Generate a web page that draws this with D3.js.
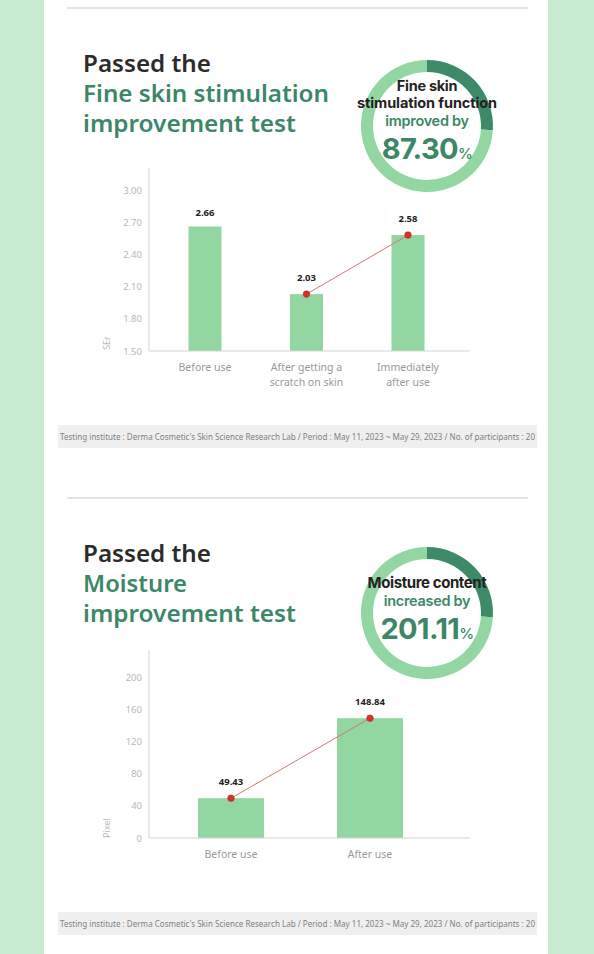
<!DOCTYPE html>
<html>
<head>
<meta charset="utf-8">
<script src="https://cdn.jsdelivr.net/npm/d3@7"></script>
<style>
  html, body { margin: 0; padding: 0; background: #c8ecd2; }
  svg { display: block; }
</style>
</head>
<body>
<svg id="chart" width="594" height="954"></svg>
<script>
// ---- data ----
var skinCategories = [["Before use"], ["After getting a", "scratch on skin"], ["Immediately", "after use"]];
var skinValues = [2.66, 2.03, 2.58];
var skinTicks = [1.50, 1.80, 2.10, 2.40, 2.70, 3.00];
var skinTrend = [1, 2];   // bars joined by the red line

var moistCategories = [["Before use"], ["After use"]];
var moistValues = [49.43, 148.84];
var moistTicks = [0, 40, 80, 120, 160, 200];
var moistTrend = [0, 1];

var ringSplit = [0.26, 0.74];   // dark / light part of the decorative ring
var footerText = "Testing institute : Derma Cosmetic's Skin Science Research Lab / Period : May 11, 2023 ~ May 29, 2023 / No. of participants : 20";

// ---- colours ----
var green = "#3b8767", barGreen = "#92d7a1", ringLight = "#92d7a1", ringDark = "#3d8a69";

var svg = d3.select("#chart");

// white panel
svg.append("rect").attr("x", 44).attr("y", 0).attr("width", 504).attr("height", 954).attr("fill", "#fff");

/** draws one whole block: headline, ring, bar chart and footer */
function draw_block(o) {
  var g = svg.append("g").attr("transform", "translate(0," + o.top + ")");

  // separator line
  g.append("line").attr("x1", 67).attr("x2", 528).attr("y1", 8).attr("y2", 8)
    .attr("stroke", "#e4e4e4").attr("stroke-width", 2);

  // headline
  o.headline.forEach(function (h, i) {
    g.append("text")
      .attr("x", 83).attr("y", 72 + i * 30)
      .attr("textLength", h.w).attr("lengthAdjust", "spacingAndGlyphs")
      .style("font-family", "'Noto Sans', sans-serif").style("font-weight", 600)
      .style("font-size", "23.5px").attr("fill", i == 0 ? "#2b2b2b" : green)
      .text(h.t);
  });

  // decorative ring
  var ring = g.append("g").attr("transform", "translate(427," + o.ringY + ")");
  var pie = d3.pie().sort(null)(ringSplit);
  var arc = d3.arc().innerRadius(54).outerRadius(66);
  ring.selectAll("path").data(pie).enter().append("path")
    .attr("d", arc).attr("fill", function (d, i) { return i == 0 ? ringDark : ringLight; });

  o.ringText.forEach(function (r) {
    ring.append("text").attr("x", 0).attr("y", r.y).attr("text-anchor", "middle")
      .style("font-family", "Inter, sans-serif").style("font-weight", r.weight || 700)
      .style("font-size", r.size + "px").style("letter-spacing", r.ls || "-0.3px")
      .attr("fill", r.color)
      .text(r.t)
      .append("tspan").style("font-size", "15px").style("font-weight", 500).text(r.suffix || "");
  });

  // scales
  var y = d3.scaleLinear().domain(o.domain).range(o.yRange);
  var x = d3.scalePoint().domain(d3.range(o.values.length)).range(o.xRange);

  // y axis
  var yAxis = d3.axisLeft(y).tickValues(o.ticks).tickSize(0).tickPadding(7)
    .tickFormat(o.fmt);
  var ya = g.append("g").attr("class", "y axis").attr("transform", "translate(149,0)").call(yAxis);
  ya.select(".domain").remove();
  ya.selectAll("text").style("font-family", "'Noto Sans', sans-serif")
    .style("font-size", "9.5px").attr("fill", "#b8b8b8");
  g.append("line").attr("x1", 149).attr("x2", 149).attr("y1", o.axisTop).attr("y2", o.yRange[0])
    .attr("stroke", "#dcdcdc").attr("stroke-width", 1.2);

  // y axis title
  g.append("text").attr("transform", "translate(110," + o.titleY + ") rotate(-90)")
    .attr("text-anchor", "middle")
    .style("font-family", "'Noto Sans', sans-serif").style("font-size", "9px")
    .attr("fill", "#b8b8b8").text(o.yTitle);

  // bars
  g.selectAll("rect.bar").data(o.values).enter().append("rect")
    .attr("class", "bar")
    .attr("x", function (d, i) { return x(i) - o.barW / 2; })
    .attr("y", function (d) { return y(d); })
    .attr("width", o.barW)
    .attr("height", function (d) { return y(o.domain[0]) - y(d); })
    .attr("fill", barGreen);

  // x axis line
  g.append("line").attr("x1", 149).attr("x2", 470).attr("y1", o.yRange[0]).attr("y2", o.yRange[0])
    .attr("stroke", "#d3d3d3").attr("stroke-width", 1.2);

  // value labels
  g.selectAll("text.val").data(o.values).enter().append("text")
    .attr("class", "val")
    .attr("x", function (d, i) { return x(i); })
    .attr("y", function (d, i) { return y(d) - (o.trend.indexOf(i) >= 0 ? 13 : 10); })
    .attr("text-anchor", "middle")
    .style("font-family", "'Noto Sans', sans-serif").style("font-weight", 700)
    .style("font-size", "9.5px").attr("fill", "#222")
    .text(function (d) { return d.toFixed(2); });

  // trend line and dots
  var pts = o.trend.map(function (i) { return [x(i), y(o.values[i])]; });
  g.append("path").attr("d", d3.line()(pts)).attr("fill", "none")
    .attr("stroke", "#d8756d").attr("stroke-width", 1);
  g.selectAll("circle.dot").data(pts).enter().append("circle")
    .attr("class", "dot").attr("cx", function (d) { return d[0]; }).attr("cy", function (d) { return d[1]; })
    .attr("r", 3.3).attr("fill", "#d8302a").attr("stroke", "#b52a22").attr("stroke-width", 0.6);

  // category labels
  o.categories.forEach(function (c, i) {
    c.forEach(function (line, j) {
      g.append("text").attr("x", x(i)).attr("y", o.yRange[0] + 20 + j * 15)
        .attr("text-anchor", "middle")
        .style("font-family", "'Noto Sans', sans-serif").style("font-size", "10.5px")
        .attr("fill", "#999").text(line);
    });
  });

  // footer
  g.append("rect").attr("x", 58).attr("y", o.footY).attr("width", 479).attr("height", 23).attr("fill", "#efefef");
  g.append("text").attr("x", 60).attr("y", o.footY + 15)
    .attr("textLength", 475).attr("lengthAdjust", "spacingAndGlyphs")
    .style("font-family", "'Noto Sans', sans-serif").style("font-size", "8px")
    .attr("fill", "#808080").text(footerText);
}

draw_block({
  top: 0,
  headline: [{ t: "Passed the", w: 128 }, { t: "Fine skin stimulation", w: 246 }, { t: "improvement test", w: 213 }],
  ringY: 126,
  ringText: [
    { t: "Fine skin", y: -35, size: 14.5, color: "#222" },
    { t: "stimulation function", y: -18, size: 14.5, color: "#222", ls: "-0.1px" },
    { t: "improved by", y: 0, size: 14.5, color: green, weight: 600 },
    { t: "87.30", y: 33, size: 29, color: green, ls: "-0.6px", suffix: "%" }
  ],
  values: skinValues, categories: skinCategories, ticks: skinTicks, trend: skinTrend,
  domain: [1.5, 3.0], yRange: [351, 190], xRange: [205, 408], axisTop: 168,
  fmt: d3.format(".2f"), yTitle: "SEr", titleY: 343, barW: 33, footY: 425
});

draw_block({
  top: 490,
  headline: [{ t: "Passed the", w: 128 }, { t: "Moisture", w: 104 }, { t: "improvement test", w: 213 }],
  ringY: 123,
  ringText: [
    { t: "Moisture content", y: -25, size: 15, color: "#222", ls: "-0.4px" },
    { t: "increased by", y: -7, size: 14.5, color: green, weight: 600 },
    { t: "201.11", y: 26, size: 29, color: green, ls: "-0.6px", suffix: "%" }
  ],
  values: moistValues, categories: moistCategories, ticks: moistTicks, trend: moistTrend,
  domain: [0, 200], yRange: [348, 187], xRange: [231, 370], axisTop: 160,
  fmt: d3.format("d"), yTitle: "Pixel", titleY: 338, barW: 66, footY: 422
});
</script>
</body>
</html>
